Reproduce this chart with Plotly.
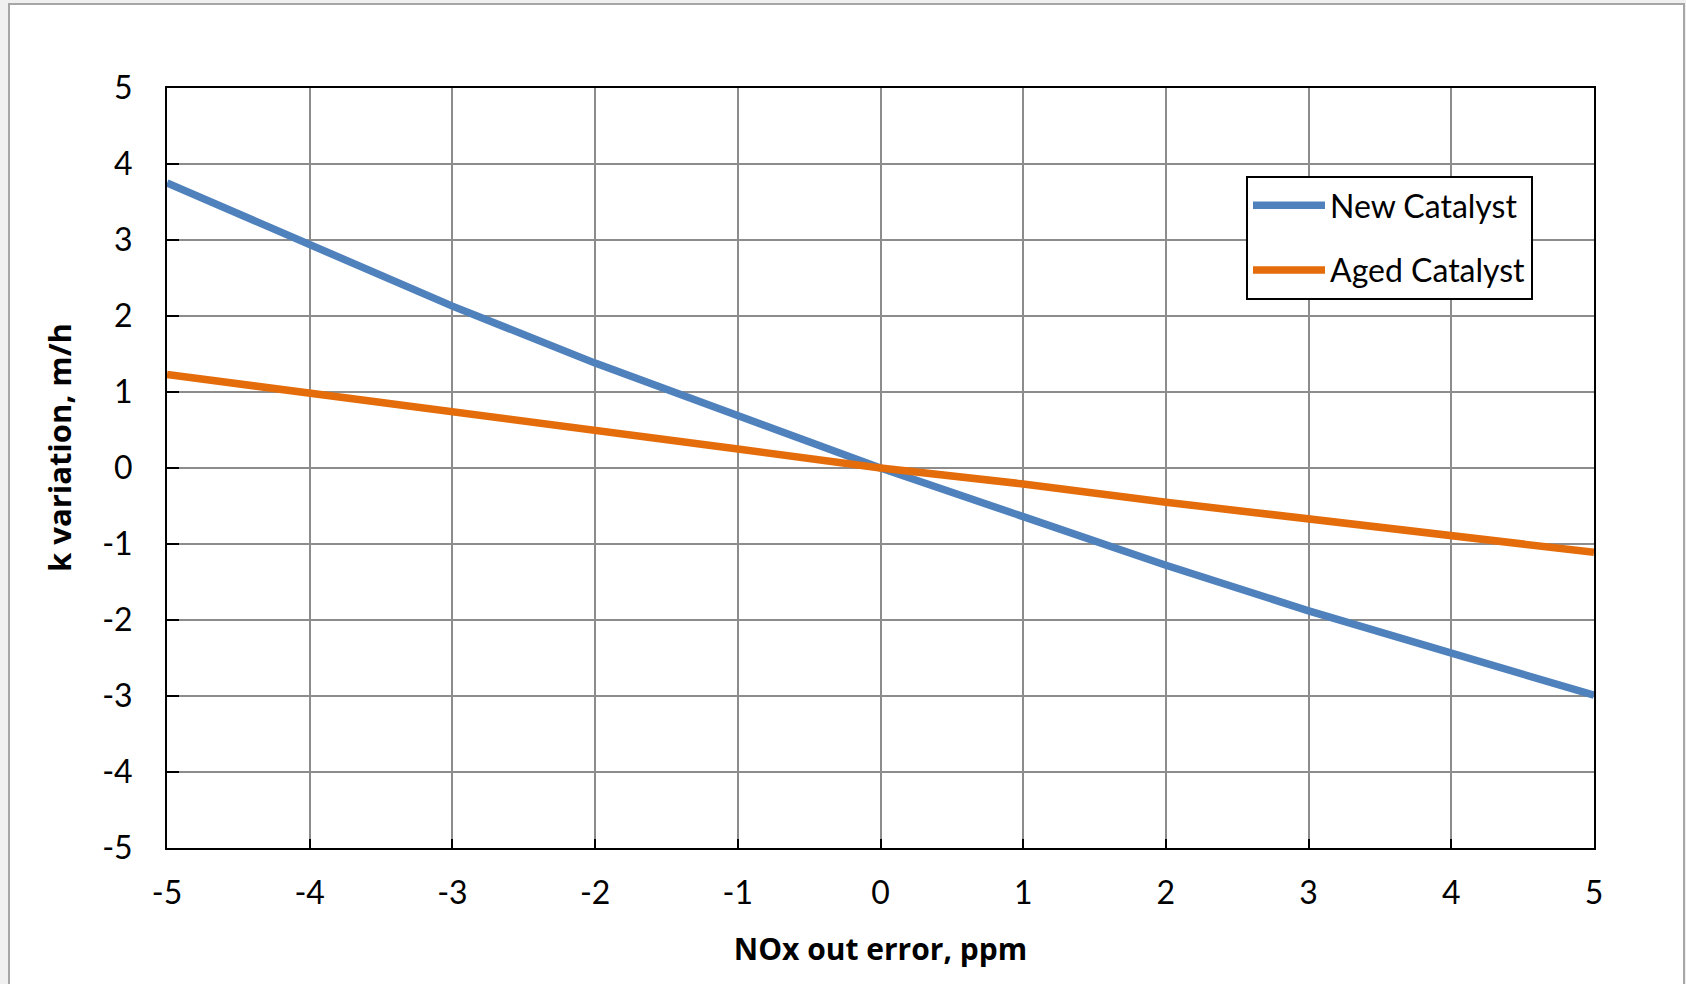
import plotly.graph_objects as go

x_vals = [-5, -4, -3, -2, -1, 0, 1, 2, 3, 4, 5]
new_catalyst = [3.75, 2.94, 2.13, 1.38, 0.68, 0.0, -0.64, -1.28, -1.88, -2.44, -2.99]
aged_catalyst = [1.23, 0.99, 0.73, 0.50, 0.25, 0.0, -0.21, -0.45, -0.67, -0.89, -1.11]
tick_vals = [-5, -4, -3, -2, -1, 0, 1, 2, 3, 4, 5]
tick_text = ["-5", "-4", "-3", "-2", "-1", "0", "1", "2", "3", "4", "5"]

W, H = 1686, 984
L, R, T, B = 167, 1594, 88, 848
FONT = "Lato"
TITLE_FONT = "Open Sans"

fig = go.Figure()
fig.add_trace(go.Scatter(x=x_vals, y=new_catalyst, mode="lines", name="New Catalyst",
                         legendgroup="a", line=dict(color="#4F81BD", width=7.5)))
fig.add_trace(go.Scatter(x=x_vals, y=aged_catalyst, mode="lines", name="Aged Catalyst",
                         legendgroup="b", line=dict(color="#E46C0A", width=7.5)))

def px_x(p):
    return (p - L) / (R - L)

def px_y(p):
    return (B - p) / (B - T)

fig.add_shape(type="rect", xref="paper", yref="paper", layer="below",
              x0=px_x(9), x1=px_x(1684), y0=px_y(1000), y1=px_y(4),
              fillcolor="white", line=dict(color="#a6a6a6", width=2))

axis_common = dict(
    range=[-5, 5], tickvals=tick_vals, ticktext=tick_text,
    showgrid=True, gridcolor="#8c8c8c", gridwidth=1.5,
    zeroline=False, showline=True, linecolor="black", linewidth=2, mirror=True,
    ticks="inside", tickcolor="black", tickwidth=2,
    tickfont=dict(family=FONT, size=32, color="black"),
)

fig.update_xaxes(**axis_common, ticklen=9, ticklabelstandoff=16,
                 title=dict(text="<b>NOx out error, ppm</b>", standoff=29,
                            font=dict(family=TITLE_FONT, size=30, color="black")))
fig.update_yaxes(**axis_common, ticklen=12, ticklabelstandoff=26)

fig.add_annotation(text="<b>k variation, m/h</b>", textangle=-90, showarrow=False,
                   xref="paper", yref="paper", x=px_x(59), y=px_y(448),
                   xanchor="center", yanchor="middle",
                   font=dict(family=TITLE_FONT, size=31, color="black"))

fig.update_layout(
    width=W, height=H,
    margin=dict(l=L, r=W - R, t=T, b=H - B, autoexpand=False),
    paper_bgcolor="#f0f0f0", plot_bgcolor="rgba(0,0,0,0)",
    font=dict(family=FONT, color="black"),
    showlegend=True,
    legend=dict(x=px_x(1246), y=px_y(176), xanchor="left", yanchor="top",
                bgcolor="white", bordercolor="black", borderwidth=2,
                font=dict(family=FONT, size=32, color="black"),
                itemwidth=72, tracegroupgap=20, traceorder="grouped"),
)

fig.write_html("out.html", config={"displayModeBar": False},
               post_script="document.body.style.margin='0';")
